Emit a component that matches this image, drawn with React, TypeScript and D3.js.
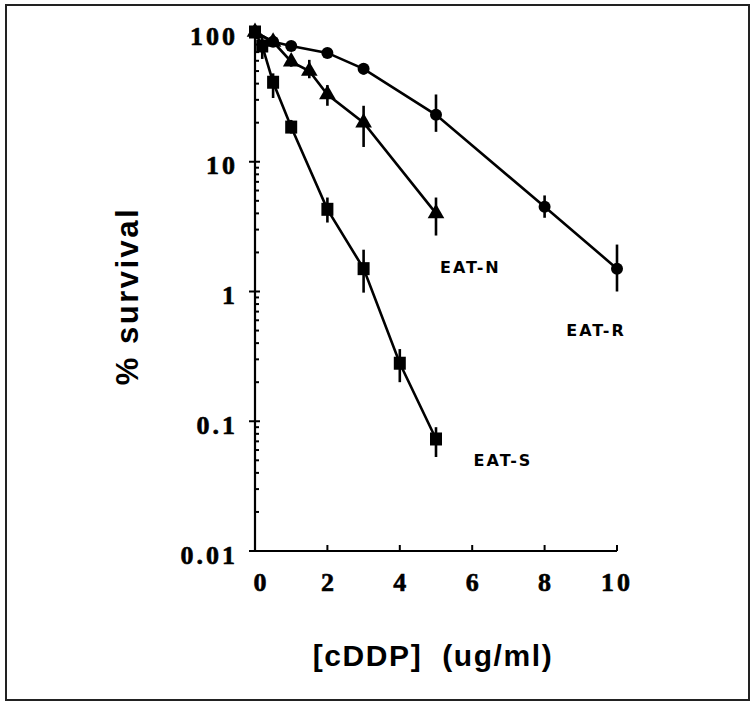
import React from "react";
import * as d3 from "d3";

// Cisplatin dose (ug/ml) vs % survival for three cell lines
const doseR = [0, 0.5, 1, 2, 3, 5, 8, 10];
const survR = [100, 84, 78, 69, 52, 23, 4.5, 1.5];
const hiR = [null, null, null, null, 57, 33, 5.5, 2.3];
const loR = [null, null, null, null, 47, 17, 3.7, 1.0];

const doseN = [0, 0.5, 1, 1.5, 2, 3, 5];
const survN = [100, 84, 59, 50, 33, 20, 4.0];
const hiN = [null, null, 64, 61, 39, 27, 5.3];
const loN = [null, null, 54, 44, 27, 13, 2.7];

const doseS = [0, 0.2, 0.5, 1, 2, 3, 4, 5];
const survS = [100, 78, 41, 18.5, 4.3, 1.5, 0.28, 0.073];
const hiS = [null, 92, 48, 21, 5.3, 2.1, 0.36, 0.09];
const loS = [null, 62, 31, 16.5, 3.4, 0.98, 0.2, 0.053];

const xTicks = [0, 2, 4, 6, 8, 10];
const yTicks = [100, 10, 1, 0.1, 0.01];
const yTickLabels = ["100", "10", "1", "0.1", "0.01"];

const seriesLabels = [
  { name: "EAT-R", x: 9.42, y: 0.5 },
  { name: "EAT-N", x: 5.95, y: 1.52 },
  { name: "EAT-S", x: 6.85, y: 0.05 },
];

type Series = {
  dose: number[];
  surv: number[];
  hi: (number | null)[];
  lo: (number | null)[];
  marker: "circle" | "triangle" | "square";
};

const series: Series[] = [
  { dose: doseR, surv: survR, hi: hiR, lo: loR, marker: "circle" },
  { dose: doseN, surv: survN, hi: hiN, lo: loN, marker: "triangle" },
  { dose: doseS, surv: survS, hi: hiS, lo: loS, marker: "square" },
];

const W = 752;
const H = 703;

export default function App() {
  const x = d3.scaleLinear().domain([0, 10]).range([255, 617]);
  const y = d3.scaleLog().domain([0.01, 100]).range([551, 32]);

  const line = d3
    .line<[number, number]>()
    .x((d) => x(d[0]))
    .y((d) => y(d[1]));

  const minorTicks: number[] = [];
  for (let e = -2; e < 2; e++) {
    for (let m = 2; m <= 9; m++) minorTicks.push(m * Math.pow(10, e));
  }

  const x0 = x(0);
  const yBase = y(0.01);

  const marker = (kind: string, cx: number, cy: number, key: string) => {
    if (kind === "circle") return <circle key={key} cx={cx} cy={cy} r={6} fill="#000" />;
    if (kind === "square")
      return <rect key={key} x={cx - 6} y={cy - 6.5} width={12} height={13} fill="#000" />;
    const tri = d3.symbol().type(d3.symbolTriangle).size(120)();
    return <path key={key} d={tri || ""} transform={`translate(${cx},${cy})`} fill="#000" />;
  };

  return (
    <svg
      width={W}
      height={H}
      style={{ position: "absolute", left: 0, top: 0, background: "#fff" }}
    >
      <rect x={6} y={5} width={743} height={695} fill="none" stroke="#222" strokeWidth={2} />

      {/* axes */}
      <line x1={x0} y1={y(100)} x2={x0} y2={yBase} stroke="#000" strokeWidth={2.2} />
      <line x1={x0} y1={yBase} x2={x(10)} y2={yBase} stroke="#000" strokeWidth={2.2} />

      {yTicks.map((t, i) => (
        <g key={"yt" + t}>
          <line x1={x0 - 6} x2={x0 + 5} y1={y(t)} y2={y(t)} stroke="#000" strokeWidth={2} />
          <text
            x={x0 - 17}
            y={y(t) + 4}
            textAnchor="end"
            dominantBaseline="central"
            fontFamily="'Liberation Serif', 'DejaVu Serif', serif"
            fontWeight="bold"
            fontSize={26}
            letterSpacing={3}
            stroke="#000"
            strokeWidth={0.6}
            fill="#000"
          >
            {yTickLabels[i]}
          </text>
        </g>
      ))}
      {minorTicks.map((t) => (
        <line key={"ym" + t} x1={x0} x2={x0 + 4} y1={y(t)} y2={y(t)} stroke="#000" strokeWidth={2} />
      ))}

      {xTicks.map((t) => (
        <g key={"xt" + t}>
          {t > 0 && (
            <line x1={x(t)} x2={x(t)} y1={yBase} y2={yBase - 6} stroke="#000" strokeWidth={2} />
          )}
          <text
            x={x(t) + (t === 0 ? 5 : 0)}
            y={yBase + 31}
            textAnchor="middle"
            dominantBaseline="central"
            fontFamily="'Liberation Serif', 'DejaVu Serif', serif"
            fontWeight="bold"
            fontSize={26}
            letterSpacing={t === 10 ? 3 : 0}
            stroke="#000"
            strokeWidth={0.6}
            fill="#000"
          >
            {t}
          </text>
        </g>
      ))}

      {/* curves, error bars, markers */}
      {series.map((s, si) => {
        const pts = s.dose.map((d, i) => [d, s.surv[i]] as [number, number]);
        return (
          <g key={"s" + si}>
            <path d={line(pts) || ""} fill="none" stroke="#000" strokeWidth={2.6} />
            {s.dose.map((d, i) =>
              s.hi[i] != null && s.lo[i] != null ? (
                <line
                  key={"e" + i}
                  x1={x(d)}
                  x2={x(d)}
                  y1={y(s.hi[i] as number)}
                  y2={y(s.lo[i] as number)}
                  stroke="#000"
                  strokeWidth={2.6}
                />
              ) : null
            )}
            {s.dose.map((d, i) => marker(s.marker, x(d), y(s.surv[i]), "m" + i))}
          </g>
        );
      })}

      {seriesLabels.map((l) => (
        <text
          key={l.name}
          x={x(l.x)}
          y={y(l.y)}
          textAnchor="middle"
          dominantBaseline="central"
          fontFamily="'DejaVu Sans', 'Liberation Sans', sans-serif"
          fontWeight="bold"
          fontSize={16}
          letterSpacing={2}
          fill="#000"
        >
          {l.name}
        </text>
      ))}

      <text
        transform={`translate(127,296) rotate(-90)`}
        textAnchor="middle"
        dominantBaseline="central"
        fontFamily="'Liberation Sans', Arial, sans-serif"
        fontWeight="bold"
        fontSize={31}
        letterSpacing={2.5}
        fill="#000"
      >
        % survival
      </text>

      <text
        x={433}
        y={655}
        textAnchor="middle"
        dominantBaseline="central"
        fontFamily="'Liberation Sans', Arial, sans-serif"
        fontWeight="bold"
        fontSize={30}
        letterSpacing={1.6}
        fill="#000"
        style={{ whiteSpace: "pre" }}
      >
        {"[cDDP]  (ug/ml)"}
      </text>
    </svg>
  );
}
